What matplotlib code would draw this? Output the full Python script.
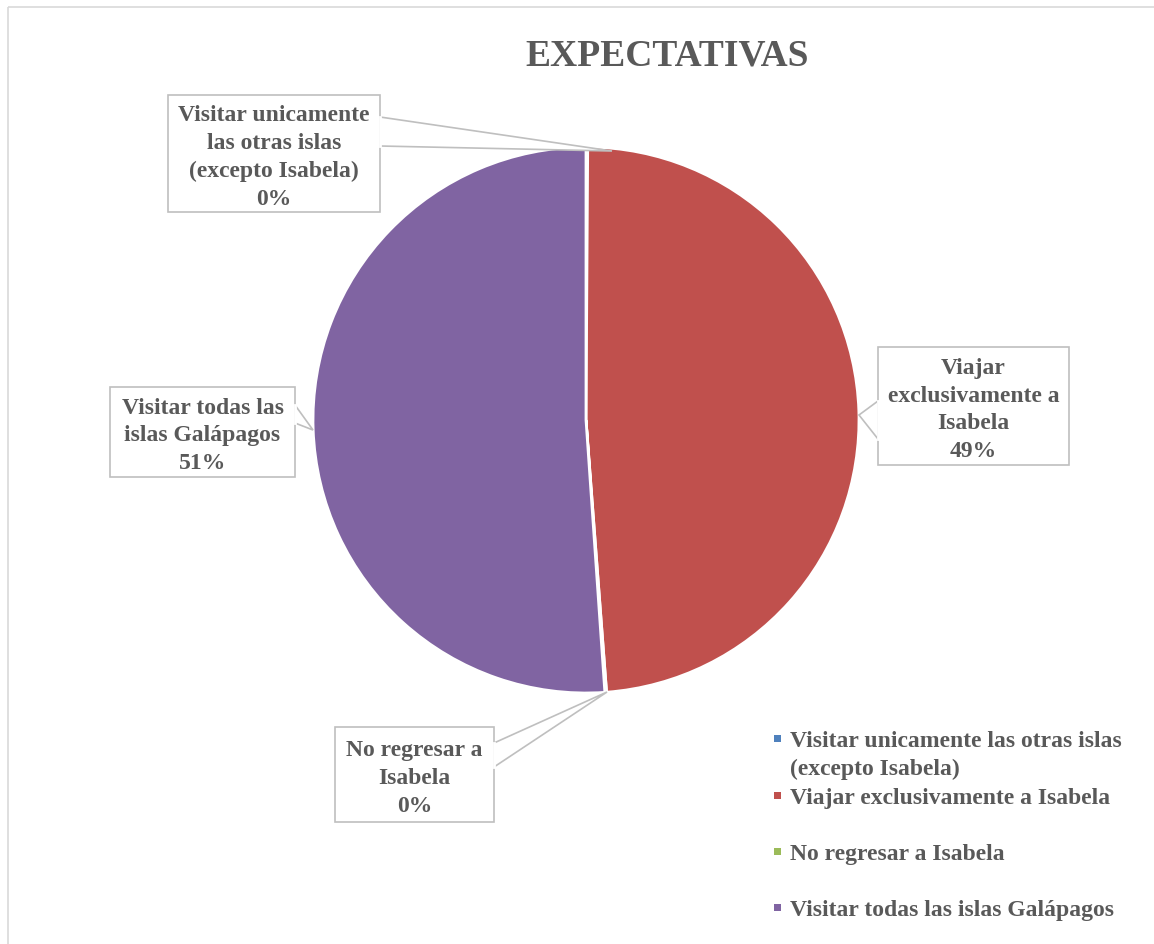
import matplotlib
matplotlib.use('Agg')
import matplotlib.pyplot as plt
from matplotlib.patches import Rectangle, Polygon

# data
categories = ['Visitar unicamente las otras islas (excepto Isabela)',
              'Viajar exclusivamente a Isabela',
              'No regresar a Isabela',
              'Visitar todas las islas Galápagos']
values = [0.1, 48.7, 0.1, 51.1]
pct_labels = ['0%', '49%', '0%', '51%']
box_names = ['Visitar unicamente\nlas otras islas\n(excepto Isabela)',
             'Viajar\nexclusivamente a\nIsabela',
             'No regresar a\nIsabela',
             'Visitar todas las\nislas Galápagos']
legend_names = ['Visitar unicamente las otras islas\n(excepto Isabela)',
                'Viajar exclusivamente a Isabela',
                'No regresar a Isabela',
                'Visitar todas las islas Galápagos']
colors = ['#4F81BD', '#C0504D', '#9BBB59', '#8064A2']

TXT = '#595959'
BOX = '#BFBFBF'
FS = 17
plt.rcParams['font.family'] = ['Liberation Serif', 'DejaVu Serif']

W, H = 1154, 945
fig = plt.figure(figsize=(W / 100, H / 100), dpi=100)
ax = fig.add_axes([0, 0, 1, 1])

# chart border
ax.add_patch(Rectangle((8, 8), W, H, fill=False, edgecolor='#D9D9D9', lw=1.2))

ax.text(667, 56, 'EXPECTATIVAS', ha='center', va='center', fontsize=27,
        fontweight='bold', color=TXT)

# y axis is inverted, so startangle=-90 + counterclock puts first slice at top going clockwise
ax.pie(values, colors=colors, center=(586, 421), radius=273, startangle=-90,
       counterclock=True, wedgeprops=dict(edgecolor='white', linewidth=2),
       frame=True)
ax.set_xlim(0, W)
ax.set_ylim(H, 0)
ax.set_aspect('equal')
ax.axis('off')

# data callouts: box (x0, y0, x1, y1), pointer base points, tip
boxes = [(168, 96, 380, 213), (878, 348, 1069, 466), (335, 728, 494, 823), (110, 388, 295, 478)]
pointers = [[(380, 118), (612, 152), (380, 147)],
            [(878, 402), (859, 416), (878, 440)],
            [(494, 744), (607, 693), (494, 768)],
            [(295, 406), (313, 431), (295, 424)]]
for i in range(len(values)):
    x0, y0, x1, y1 = boxes[i]
    ax.add_patch(Polygon(pointers[i], closed=True, facecolor='white', edgecolor=BOX, lw=1.2, zorder=5))
    ax.add_patch(Rectangle((x0, y0), x1 - x0, y1 - y0, facecolor='white', edgecolor=BOX, lw=1.2, zorder=6))
    # cover pointer base so it joins the box
    pb = pointers[i]
    ax.plot([pb[0][0], pb[2][0]], [pb[0][1], pb[2][1]], color='white', lw=2, zorder=7)
    ax.text((x0 + x1) / 2, (y0 + y1) / 2 + 3, box_names[i] + '\n' + pct_labels[i],
            ha='center', va='center', fontsize=FS, fontweight='bold', color=TXT,
            linespacing=1.42, zorder=8)

# legend
leg_y = [740, 797, 853, 909]
for name, c, y in zip(legend_names, colors, leg_y):
    ax.add_patch(Rectangle((774, y - 4), 7, 7, facecolor=c, edgecolor='none'))
    ax.text(790, y - 9, name, ha='left', va='top', fontsize=FS, fontweight='bold',
            color=TXT, linespacing=1.42)

fig.savefig('out.png', dpi=100, facecolor='white')
